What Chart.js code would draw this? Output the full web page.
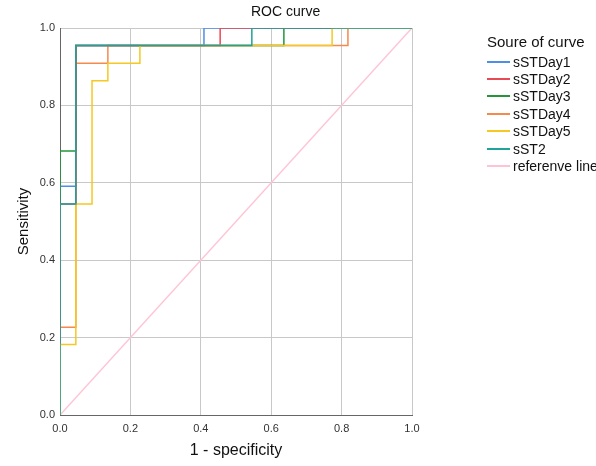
<!DOCTYPE html>
<html>
<head>
<meta charset="utf-8">
<script src="https://cdn.jsdelivr.net/npm/chart.js@4"></script>
<style>
  html, body { margin: 0; padding: 0; background: #fff; overflow: hidden; }
  #wrap { position: relative; width: 596px; height: 466px; overflow: hidden; font-family: Arial, "Liberation Sans", sans-serif; }
  #chart { position: absolute; left: 0; top: 0; }
  #title { position: absolute; left: 251px; top: 3px; font-size: 14px; color: #111; white-space: nowrap; }
  #legend { position: absolute; left: 487px; top: 33px; width: 140px; color: #111; white-space: nowrap; }
  #legend .head { font-size: 15px; margin-bottom: 3px; }
  #legend .row { height: 17.4px; display: flex; align-items: center; font-size: 14px; }
  #legend .swatch { width: 23px; height: 2px; margin-right: 3px; flex: none; }
</style>
</head>
<body>
<div id="wrap">
  <canvas id="chart" width="596" height="466"></canvas>
  <div id="title">ROC curve</div>
  <div id="legend"><div class="head">Soure of curve</div></div>
</div>
<script>
// ROC curve points (1 - specificity, sensitivity)
const day1X = [0, 0, 0.045, 0.045, 0.409, 0.409, 1];
const day1Y = [0, 0.591, 0.591, 0.955, 0.955, 1, 1];
const day2X = [0, 0, 0.045, 0.045, 0.455, 0.455, 1];
const day2Y = [0, 0.545, 0.545, 0.955, 0.955, 1, 1];
const day3X = [0, 0, 0.045, 0.045, 0.636, 0.636, 1];
const day3Y = [0, 0.682, 0.682, 0.955, 0.955, 1, 1];
const day4X = [0, 0, 0.045, 0.045, 0.136, 0.136, 0.818, 0.818, 1];
const day4Y = [0, 0.227, 0.227, 0.909, 0.909, 0.955, 0.955, 1, 1];
const day5X = [0, 0, 0.045, 0.045, 0.091, 0.091, 0.136, 0.136, 0.227, 0.227, 0.773, 0.773, 1];
const day5Y = [0, 0.182, 0.182, 0.545, 0.545, 0.864, 0.864, 0.909, 0.909, 0.955, 0.955, 1, 1];
const st2X = [0, 0, 0.045, 0.045, 0.545, 0.545, 1];
const st2Y = [0, 0.545, 0.545, 0.955, 0.955, 1, 1];
const refX = [0, 1];
const refY = [0, 1];

const labels = ['sSTDay1', 'sSTDay2', 'sSTDay3', 'sSTDay4', 'sSTDay5', 'sST2', 'referenve line'];
const colors = ['#4d8fe6', '#e84a55', '#24963a', '#f58a4e', '#f5c823', '#1fa39a', '#ffc4d4'];
const drawOrder = [5, 2, 3, 4, 1, 0, 6];
const xs = [day1X, day2X, day3X, day4X, day5X, st2X, refX];
const ys = [day1Y, day2Y, day3Y, day4Y, day5Y, st2Y, refY];

const datasets = labels.map((label, i) => ({
    label: label,
    data: xs[i].map((x, j) => ({ x: x, y: ys[i][j] })),
    borderColor: colors[i],
    borderWidth: 1.5,
    pointRadius: 0,
    fill: false,
    tension: 0,
    order: drawOrder[i]
}));

// HTML legend
const legend = document.getElementById('legend');
labels.forEach((label, i) => {
    const row = document.createElement('div');
    row.className = 'row';
    row.innerHTML = `<span class="swatch" style="background:${colors[i]}"></span><span>${label}</span>`;
    legend.appendChild(row);
});

const font = "Arial, 'Liberation Sans', sans-serif";

new Chart(document.getElementById('chart'), {
    type: 'line',
    data: { datasets },
    options: {
        responsive: false,
        animation: false,
        layout: { padding: { left: 11, right: 184, top: 28, bottom: 2 } },
        plugins: {
            legend: { display: false },
            tooltip: { enabled: false }
        },
        scales: {
            x: {
                type: 'linear',
                min: 0,
                max: 1,
                afterFit: (scale) => { scale.height = 49; },
                ticks: {
                    stepSize: 0.2,
                    padding: 7,
                    color: '#333',
                    font: { family: font, size: 11 },
                    maxRotation: 0,
                    callback: (v) => v.toFixed(1)
                },
                grid: { color: '#c8c8c8', drawTicks: false },
                border: { color: '#666' },
                title: {
                    display: true,
                    text: '1 - specificity',
                    color: '#111',
                    font: { family: font, size: 16 }
                }
            },
            y: {
                min: 0,
                max: 1,
                afterFit: (scale) => { scale.width = 49; },
                ticks: {
                    stepSize: 0.2,
                    padding: 5,
                    color: '#333',
                    font: { family: font, size: 11 },
                    callback: (v) => v.toFixed(1)
                },
                grid: { color: '#c8c8c8', drawTicks: false },
                border: { color: '#666' },
                title: {
                    display: true,
                    text: 'Sensitivity',
                    color: '#111',
                    font: { family: font, size: 15 }
                }
            }
        }
    }
});
</script>
</body>
</html>
